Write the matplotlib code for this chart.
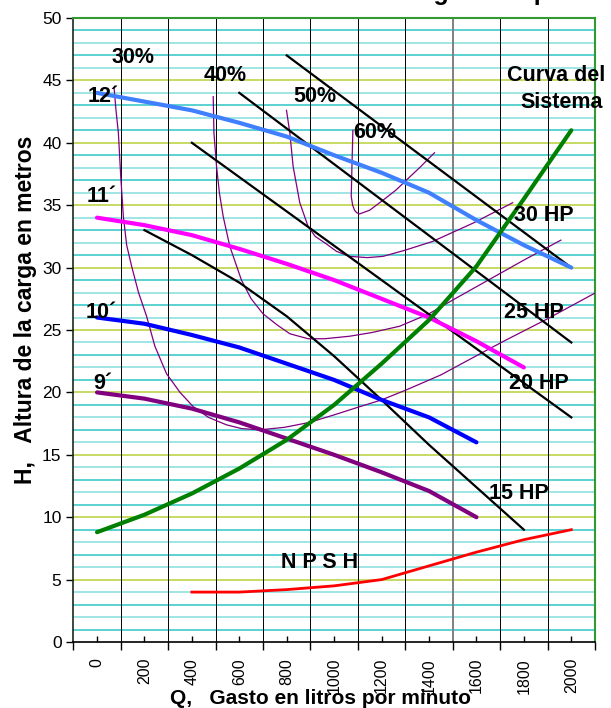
import matplotlib
matplotlib.use("Agg")
import matplotlib.pyplot as plt

plt.rcParams['font.family'] = ['Liberation Sans', 'DejaVu Sans']

# impeller diameter curves (x = gasto l/min, y = altura m)
q_12 = [0, 200, 400, 600, 800, 1000, 1200, 1400, 1600, 1800, 2000]
h_12 = [44.0, 43.3, 42.6, 41.6, 40.5, 39.0, 37.6, 36.0, 33.8, 31.8, 30.0]
q_11 = [0, 200, 400, 600, 800, 1000, 1200, 1400, 1600, 1800]
h_11 = [34.0, 33.4, 32.6, 31.5, 30.3, 29.0, 27.5, 26.0, 24.1, 22.0]
q_10 = [0, 200, 400, 600, 800, 1000, 1200, 1400, 1600]
h_10 = [26.0, 25.5, 24.6, 23.6, 22.3, 21.0, 19.4, 18.0, 16.0]
q_9 = [0, 200, 400, 600, 800, 1000, 1200, 1400, 1600]
h_9 = [20.0, 19.5, 18.7, 17.6, 16.3, 15.0, 13.6, 12.1, 10.0]

# curva del sistema
q_sis = [0, 200, 400, 600, 800, 1000, 1200, 1400, 1600, 1800, 2000]
h_sis = [8.8, 10.2, 11.9, 13.9, 16.2, 19.0, 22.3, 25.8, 30.1, 35.5, 41.0]

# NPSH
q_npsh = [400, 600, 800, 1000, 1200, 1400, 1600, 1800, 2000]
h_npsh = [4.0, 4.0, 4.2, 4.5, 5.0, 6.1, 7.2, 8.2, 9.0]

# potencia (HP)
q_30hp = [800, 2000]
h_30hp = [47.0, 30.0]
q_25hp = [600, 2000]
h_25hp = [44.0, 24.0]
q_20hp = [400, 2000]
h_20hp = [40.0, 18.0]
q_15hp = [200, 400, 600, 800, 1000, 1200, 1400, 1600, 1800]
h_15hp = [33.0, 31.0, 28.8, 26.1, 22.9, 19.4, 15.8, 12.4, 9.0]

# eficiencia
q_e30 = [72, 80, 90, 100, 111, 125, 146, 175, 209, 244, 293, 350, 406, 470,
         546, 610, 686, 790, 897, 1000, 1107, 1200, 1304, 1450, 1655, 1725, 1900, 2104]
h_e30 = [44.4, 42.6, 40.8, 37.3, 34.1, 31.8, 30.1, 28.0, 26.1, 23.7, 21.5, 20.0, 18.85, 18.0,
         17.4, 17.1, 17.0, 17.2, 17.6, 18.2, 18.85, 19.4, 20.2, 21.4, 23.5, 24.2, 25.9, 28.0]
q_e40 = [490, 493, 504, 516, 532, 560, 609, 650, 700, 760, 813, 890, 960, 1065,
         1160, 1276, 1400, 1500, 1650, 1800, 1956]
h_e40 = [43.7, 40.8, 38.1, 36.0, 34.1, 31.7, 29.0, 27.5, 26.3, 25.4, 24.7, 24.3, 24.3, 24.5,
         24.8, 25.3, 26.3, 27.4, 29.0, 30.6, 32.2]
q_e50 = [799, 813, 827, 855, 890, 920, 967, 1010, 1065, 1140, 1206, 1300, 1416, 1590, 1753]
h_e50 = [42.6, 40.8, 38.1, 35.2, 33.3, 32.5, 31.9, 31.3, 30.9, 30.8, 30.9, 31.4, 32.1, 33.6, 35.2]
q_e60 = [1079, 1075, 1072, 1078, 1086, 1095, 1107, 1150, 1206, 1260, 1304, 1360, 1423]
h_e60 = [41.0, 38.1, 35.7, 35.0, 34.6, 34.4, 34.3, 34.6, 35.4, 36.2, 37.0, 38.0, 39.2]

x_ticks = [0, 200, 400, 600, 800, 1000, 1200, 1400, 1600, 1800, 2000]
y_ticks = [0, 5, 10, 15, 20, 25, 30, 35, 40, 45, 50]

fig = plt.figure(figsize=(6.11, 7.08), dpi=100)
ax = fig.add_axes([0.12, 0.0932, 0.8538, 0.8814])

# background grid, excel style
for k in range(1, 50):
    if k % 5 == 0:
        c = '#bcd448'
    elif k % 2 == 1:
        c = '#3fcaca'
    else:
        c = '#8fe0e0'
    ax.axhline(k, color=c, lw=1.2, zorder=1)
for gx in range(100, 2100, 200):
    if gx == 1500:
        ax.axvline(gx, color='#808080', lw=1.4, zorder=1.5)
    else:
        ax.axvline(gx, color='black', lw=0.7, zorder=1.5)

thin = dict(color='#800080', lw=0.9, zorder=3)
ax.plot(q_e30, h_e30, **thin)
ax.plot(q_e40, h_e40, **thin)
ax.plot(q_e50, h_e50, **thin)
ax.plot(q_e60, h_e60, **thin)

hp = dict(color='black', lw=1.6, zorder=3.5)
ax.plot(q_30hp, h_30hp, **hp)
ax.plot(q_25hp, h_25hp, **hp)
ax.plot(q_20hp, h_20hp, **hp)
ax.plot(q_15hp, h_15hp, **hp)

ax.plot(q_12, h_12, color='#4080ff', lw=3, zorder=4, solid_capstyle='round')
ax.plot(q_11, h_11, color='#ff00ff', lw=3, zorder=4, solid_capstyle='round')
ax.plot(q_10, h_10, color='#0000ff', lw=3, zorder=4, solid_capstyle='round')
ax.plot(q_9, h_9, color='#800080', lw=3, zorder=4, solid_capstyle='round')
ax.plot(q_sis, h_sis, color='#008000', lw=3, zorder=4, solid_capstyle='round')
ax.plot(q_npsh, h_npsh, color='#ff0000', lw=2, zorder=4)

ax.set_xlim(-100, 2100)
ax.set_ylim(0, 50)

# labels on the chart
lbl = dict(fontsize=15.5, fontweight='bold', ha='center', va='center', zorder=6)
ax.text(152, 46.8, '30%', **lbl)
ax.text(539, 45.4, '40%', **lbl)
ax.text(918, 43.7, '50%', **lbl)
ax.text(1170, 40.8, '60%', **lbl)
ax.text(28, 43.7, '12´', **lbl)
ax.text(18, 35.7, '11´', **lbl)
ax.text(18, 26.4, '10´', **lbl)
ax.text(25, 20.7, '9´', **lbl)
ax.text(1935, 45.4, 'Curva del', **lbl)
ax.text(1960, 43.2, 'Sistema', **lbl)
ax.text(1886, 34.2, '30 HP', **lbl)
ax.text(1844, 26.4, '25 HP', **lbl)
ax.text(1865, 20.7, '20 HP', **lbl)
ax.text(1781, 11.9, '15 HP', **lbl)
ax.text(939, 6.4, 'N P S H', **lbl)

# axes
ax.set_xticks(range(-100, 2101, 200))
ax.set_xticklabels([])
ax.set_xticks(x_ticks, minor=True)
ax.set_xticklabels([str(v) for v in x_ticks], minor=True, rotation=90, fontsize=11.5)
ax.tick_params(axis='x', which='major', direction='out', length=6, width=1)
ax.tick_params(axis='x', which='minor', direction='in', length=4, width=1, pad=11.5)
ax.set_yticks(y_ticks)
ax.set_yticklabels([str(v) for v in y_ticks], fontsize=12.5)
ax.tick_params(axis='y', direction='out', length=5, width=1)
ax.yaxis.set_minor_locator(plt.NullLocator())

for s in ['top', 'right']:
    ax.spines[s].set_color('#339933')
    ax.spines[s].set_linewidth(1.5)
ax.spines['left'].set_color('#1a2a1a')
ax.spines['bottom'].set_color('black')
ax.spines['left'].set_linewidth(1.2)
ax.spines['bottom'].set_linewidth(1.2)

fig.text(0.525, 0.014, 'Q,   Gasto en litros por minuto', fontsize=15, fontweight='bold',
         ha='center', va='center')
fig.text(0.041, 0.562, 'H,   Altura de la carga en metros', fontsize=16.5, fontweight='bold',
         ha='center', va='center', rotation=90)

# title sits above the picture, only its descenders show at the top edge
fig.text(396 / 611, 1.0, 'carga de la prueba', fontsize=18, fontweight='bold',
         ha='left', va='baseline')
fig.text(396 / 611, 1.0, 'Curvas características de ', fontsize=18, fontweight='bold',
         ha='right', va='baseline')

fig.savefig('out.png', dpi=100)
